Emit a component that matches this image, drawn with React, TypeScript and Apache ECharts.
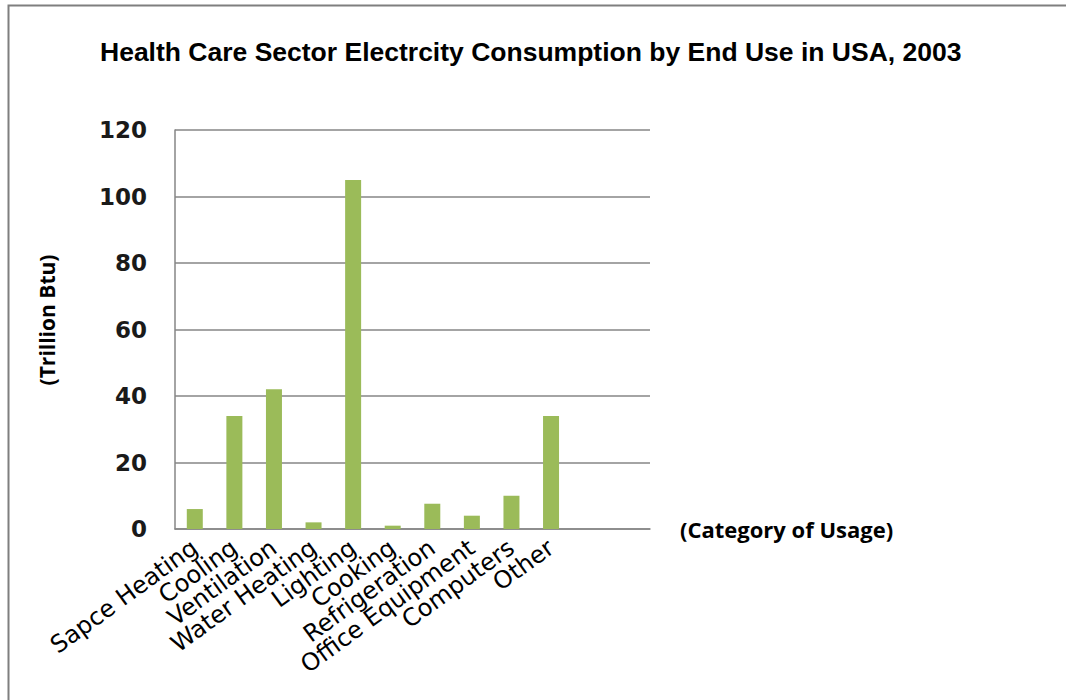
import React, { useEffect, useRef } from "react";
import * as echarts from "echarts";

const categories = [
  "Sapce Heating",
  "Cooling",
  "Ventilation",
  "Water Heating",
  "Lighting",
  "Cooking",
  "Refrigeration",
  "Office Equipment",
  "Computers",
  "Other",
  "",
  "",
];
const values = [6, 34, 42, 2, 105, 1, 7.6, 4, 10, 34, null, null];
const titleText = "Health Care Sector Electrcity Consumption by End Use in USA, 2003";
const yName = "(Trillion Btu)";
const xName = "(Category of Usage)";

export default function App() {
  const ref = useRef<HTMLDivElement>(null);
  useEffect(() => {
    const chart = echarts.init(ref.current!, null, { renderer: "svg" });
    chart.setOption({
      animation: false,
      backgroundColor: "#ffffff",
      graphic: [
        {
          type: "rect",
          shape: { x: 8.5, y: 5.5, width: 1100, height: 800 },
          style: { fill: "none", stroke: "#7f7f7f", lineWidth: 2 },
          silent: true,
        },
        {
          type: "text",
          x: 47,
          y: 320,
          rotation: Math.PI / 2,
          style: {
            text: yName,
            fontFamily: "Open Sans, Noto Sans, sans-serif",
            fontWeight: "bold",
            fontSize: 21,
            fill: "#000000",
            align: "center",
            verticalAlign: "middle",
          },
          silent: true,
        },
      ],
      title: {
        text: titleText,
        left: 95,
        top: 33,
        textStyle: {
          fontFamily: "Liberation Sans, Arial, sans-serif",
          fontWeight: "bold",
          fontSize: 26.5,
          color: "#000000",
        },
      },
      grid: { left: 175, right: 416, top: 130, bottom: 171 },
      xAxis: {
        type: "category",
        data: categories,
        name: xName,
        nameLocation: "end",
        nameGap: 30,
        nameTextStyle: {
          fontFamily: "Open Sans, Noto Sans, sans-serif",
          fontWeight: "bold",
          fontSize: 22,
          color: "#000000",
          verticalAlign: "middle",
        },
        axisLine: { lineStyle: { color: "#868686", width: 1.5 } },
        axisTick: { show: false },
        axisLabel: {
          interval: 0,
          rotate: 36,
          margin: 16,
          fontFamily: "DejaVu Sans, Verdana, sans-serif",
          fontSize: 24,
          color: "#000000",
        },
      },
      yAxis: {
        type: "value",
        min: 0,
        max: 120,
        interval: 20,
        axisLine: { show: true, lineStyle: { color: "#868686", width: 1.5 } },
        axisTick: { show: false },
        splitLine: { lineStyle: { color: "#868686", width: 1.5 } },
        axisLabel: {
          margin: 28,
          fontFamily: "DejaVu Sans, Verdana, sans-serif",
          fontWeight: "bold",
          fontSize: 23,
          color: "#1a1a1a",
        },
      },
      series: [
        {
          type: "bar",
          data: values,
          barWidth: 16,
          itemStyle: { color: "#9bbb59" },
        },
      ],
    });
    return () => chart.dispose();
  }, []);
  return (
    <div
      ref={ref}
      style={{ position: "fixed", left: 0, top: 0, width: 1066, height: 700 }}
    />
  );
}
